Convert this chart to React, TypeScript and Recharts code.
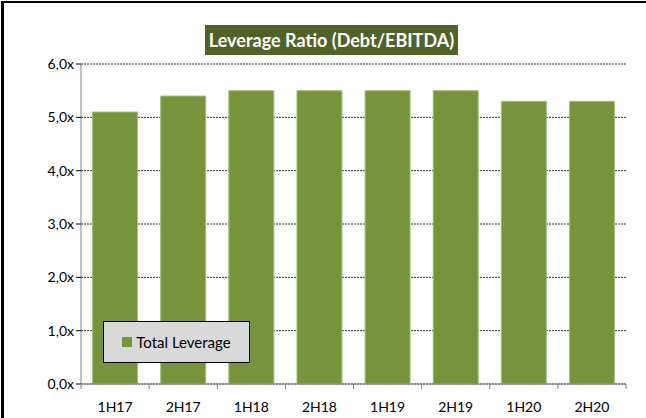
import { BarChart, Bar, XAxis, YAxis, CartesianGrid } from "recharts";

const periods = ["1H17", "2H17", "1H18", "2H18", "1H19", "2H19", "1H20", "2H20"];
const totalLeverage = [5.1, 5.4, 5.5, 5.5, 5.5, 5.5, 5.3, 5.3];
const yTicks = [0, 1, 2, 3, 4, 5, 6];

const data = periods.map((p, i) => ({ period: p, "Total Leverage": totalLeverage[i] }));

const FONT = "Lato, 'Open Sans', sans-serif";
const BAND = (626 - 81) / periods.length;

function XTick(props: any) {
  const { x, y, payload, index } = props;
  const half = BAND / 2;
  return (
    <g>
      <line x1={x - half} y1={y - 8} x2={x - half} y2={y - 3} stroke="#808080" />
      {index === periods.length - 1 && (
        <line x1={x + half} y1={y - 8} x2={x + half} y2={y - 3} stroke="#808080" />
      )}
      <text x={x} y={y + 20} textAnchor="middle" fontSize={14} fill="#000" fontFamily={FONT}>
        {payload.value}
      </text>
    </g>
  );
}

export default function App() {
  return (
    <div style={{ position: "absolute", left: 0, top: 0, width: 646, height: 418, background: "#fff", overflow: "hidden" }}>
      <div style={{ position: "absolute", left: 1, top: 1, width: 3, height: 417, background: "#000" }} />
      <div style={{ position: "absolute", left: 1, top: 1, width: 645, height: 2, background: "#000" }} />
      <BarChart
        width={646}
        height={418}
        data={data}
        margin={{ top: 64, right: 20, bottom: 4, left: 0 }}
        barCategoryGap="17%"
        style={{ position: "absolute", left: 0, top: 0 }}
      >
        <CartesianGrid vertical={false} stroke="#333" strokeDasharray="2 1" />
        <XAxis
          dataKey="period"
          height={30}
          tick={<XTick />}
          tickLine={false}
          axisLine={{ stroke: "#808080" }}
          interval={0}
        />
        <YAxis
          width={81}
          domain={[0, 6]}
          ticks={yTicks}
          interval={0}
          tickFormatter={(v) => v.toFixed(1).replace(".", ",") + "x"}
          tick={{ fontSize: 14, fill: "#000", fontFamily: FONT }}
          tickLine={{ stroke: "#000" }}
          tickSize={5}
          axisLine={{ stroke: "#808080" }}
        />
        <Bar
          dataKey="Total Leverage"
          fill="#77933c"
          stroke="#a6bd78"
          strokeWidth={1}
          isAnimationActive={false}
        />
      </BarChart>
      <div
        style={{
          position: "absolute",
          left: 103,
          top: 321,
          width: 147,
          height: 42,
          boxSizing: "border-box",
          background: "#d9d9d9",
          border: "1px solid #000",
          display: "flex",
          alignItems: "center",
          justifyContent: "center",
          fontFamily: FONT,
          fontSize: 15,
          color: "#000",
        }}
      >
        <span style={{ width: 10, height: 10, background: "#77933c", marginRight: 4, display: "inline-block" }} />
        Total Leverage
      </div>
      <div
        style={{
          position: "absolute",
          left: 205,
          top: 25,
          width: 253,
          height: 30,
          background: "#4f6228",
          color: "#fff",
          fontFamily: FONT,
          fontWeight: 700,
          fontSize: 18,
          display: "flex",
          alignItems: "center",
          justifyContent: "center",
        }}
      >
        Leverage Ratio (Debt/EBITDA)
      </div>
    </div>
  );
}
